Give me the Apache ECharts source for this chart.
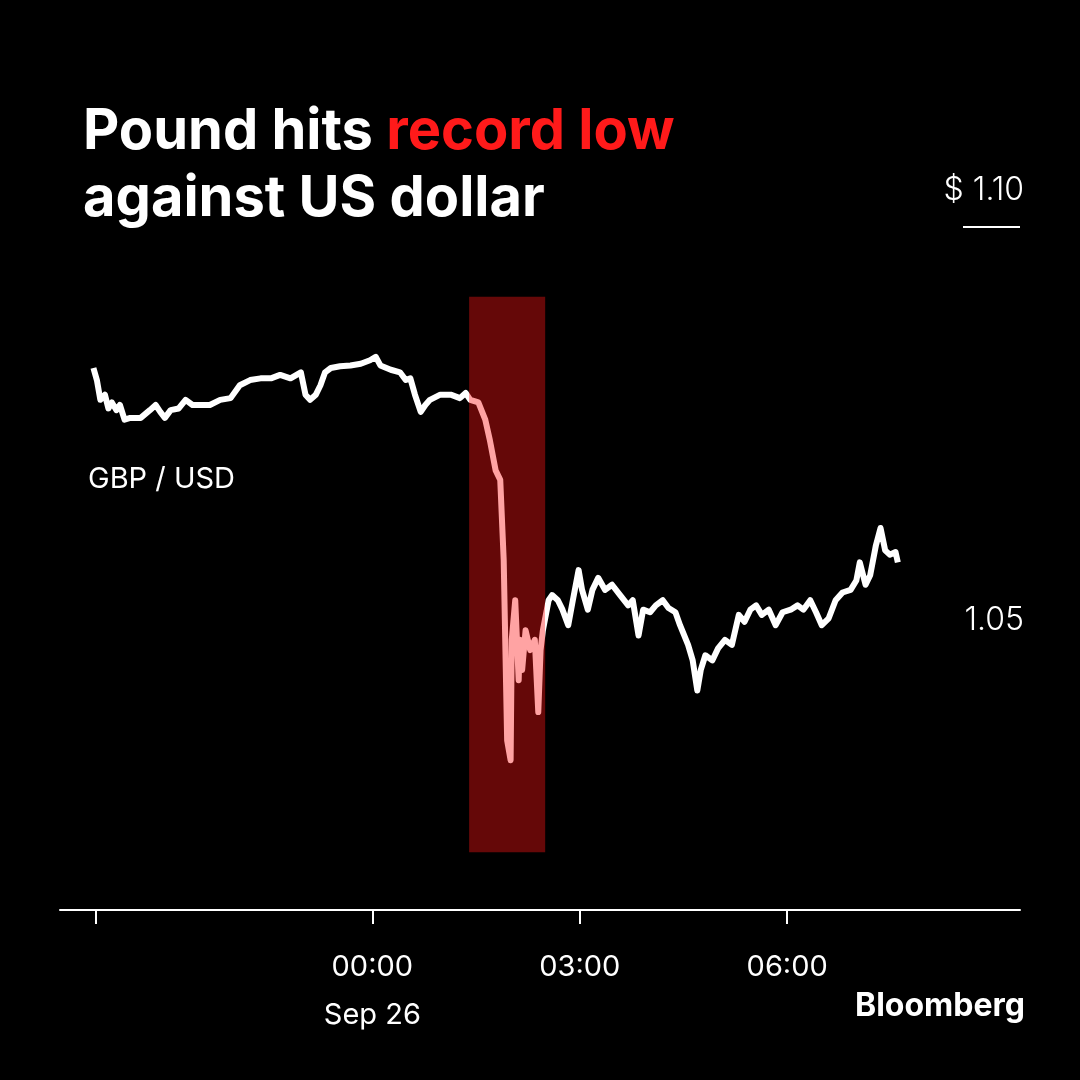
<!DOCTYPE html>
<html><head><meta charset="utf-8">
<script src="https://cdn.jsdelivr.net/npm/echarts@6/dist/echarts.min.js"></script>
<style>html,body{margin:0;background:#000}#c{width:1080px;height:1080px}</style>
</head><body><div id="c"></div>
<script>
// minutes from 00:00 Sep 26
const minutes=[-242,-239,-236,-232,-229,-226,-222,-219,-215,-210,-201,-193,-188,-184,-180,-175,-168,-162,-156,-149,-141,-132,-123,-115,-106,-97,-88,-80,-71,-62,-58,-54,-49,-45,-41,-36,-28,-19,-10,-2,3,7,16,24,29,33,37,42,46,50,59,68,76,81,85,92,98,102,107,111,114,115,117,120,121,124,127,128,130,133,137,141,144,146,148,153,156,161,165,170,174,179,182,187,191,196,202,208,215,222,226,231,235,241,246,252,257,263,267,274,278,282,285,289,295,300,306,312,318,323,328,333,338,344,350,356,363,369,374,380,385,390,396,402,408,415,420,423,428,432,437,441,445,449,454,456];
const rates=[1.0793,1.0779,1.0756,1.0762,1.0746,1.0753,1.0744,1.0750,1.0733,1.0735,1.0735,1.0744,1.0750,1.0742,1.0735,1.0744,1.0746,1.0756,1.0750,1.0750,1.0750,1.0756,1.0758,1.0773,1.0779,1.0781,1.0781,1.0785,1.0781,1.0788,1.0762,1.0756,1.0762,1.0773,1.0788,1.0793,1.0795,1.0796,1.0798,1.0802,1.0806,1.0796,1.0791,1.0788,1.0779,1.0781,1.0762,1.0742,1.0750,1.0756,1.0762,1.0762,1.0758,1.0764,1.0756,1.0753,1.0733,1.0709,1.0674,1.0663,1.0570,1.0500,1.0360,1.0337,1.0477,1.0523,1.0430,1.0477,1.0442,1.0488,1.0465,1.0477,1.0393,1.0465,1.0488,1.0523,1.0529,1.0523,1.0512,1.0494,1.0523,1.0558,1.0535,1.0512,1.0535,1.0549,1.0535,1.0541,1.0529,1.0517,1.0523,1.0482,1.0512,1.0509,1.0517,1.0523,1.0514,1.0509,1.0494,1.0471,1.0453,1.0418,1.0442,1.0459,1.0453,1.0467,1.0477,1.0471,1.0506,1.0498,1.0512,1.0517,1.0506,1.0512,1.0494,1.0509,1.0512,1.0517,1.0512,1.0523,1.0509,1.0494,1.0502,1.0523,1.0532,1.0535,1.0546,1.0567,1.0541,1.0552,1.0587,1.0607,1.0581,1.0576,1.0579,1.0567];
const xTicks=[-240,0,180,360];
const xTickLabels={"-240":"","0":"00:00\nSep 26","180":"03:00","360":"06:00"};
const yTicks=[1.05,1.10];
const yTickLabels={"1.05":"1.05","1.1":"$ 1.10"};
const band=[84,150];
const bandY=[1.0230,1.0876];

const chart=echarts.init(document.getElementById('c'));
chart.setOption({
  backgroundColor:'#000',
  animation:false,
  grid:{left:60,right:60,top:190,bottom:170},
  xAxis:{type:'value',min:-271,max:562,
    axisLine:{lineStyle:{color:'#fff',width:2}},
    axisTick:{show:true,customValues:xTicks,length:14,lineStyle:{color:'#fff',width:2}},
    axisLabel:{customValues:xTicks,formatter:v=>xTickLabels[String(v)]||'',color:'#fff',fontSize:29,fontFamily:'Inter',lineHeight:48,margin:33},
    splitLine:{show:false}},
  yAxis:{type:'value',position:'right',min:1.01628,max:1.10,
    axisLine:{show:false},axisTick:{show:false},splitLine:{show:false},
    axisLabel:{inside:true,customValues:yTicks,formatter:v=>yTickLabels[String(v)]||'',color:'#fff',fontSize:32,fontFamily:'Inter',fontWeight:300,margin:-4,align:'right'}},
  visualMap:{show:false,type:'piecewise',dimension:0,seriesIndex:0,
    pieces:[{lte:band[0],color:'#fff'},{gt:band[0],lte:band[1],color:'#ffa3a3'},{gt:band[1],color:'#fff'}]},
  series:[{type:'line',data:minutes.map((m,i)=>[m,rates[i]]),showSymbol:false,
    lineStyle:{width:6,join:'round'},z:5,
    markArea:{silent:true,itemStyle:{color:'#650808'},data:[[{xAxis:band[0],yAxis:bandY[0]},{xAxis:band[1],yAxis:bandY[1]}]]}}],
  graphic:[
    {type:'text',left:83,top:104,style:{rich:{w:{fill:'#fff'},r:{fill:'#ff1a1a'}},text:'{w|Pound hits }{r|record low}',font:'bold 56px Inter',fill:'#fff',letterSpacing:-2}},
    {type:'text',left:83,top:171,style:{text:'against US dollar',font:'bold 56px Inter',fill:'#fff',letterSpacing:-2}},
    {type:'rect',shape:{x:963,y:226,width:57,height:2},style:{fill:'#fff'}},
    {type:'text',left:88,top:465,style:{text:'GBP / USD',font:'29px Inter',fill:'#fff'}},
    {type:'text',right:55,top:990,style:{text:'Bloomberg',font:'bold 32px Inter',fill:'#fff',letterSpacing:-1}}
  ]
});
</script></body></html>
